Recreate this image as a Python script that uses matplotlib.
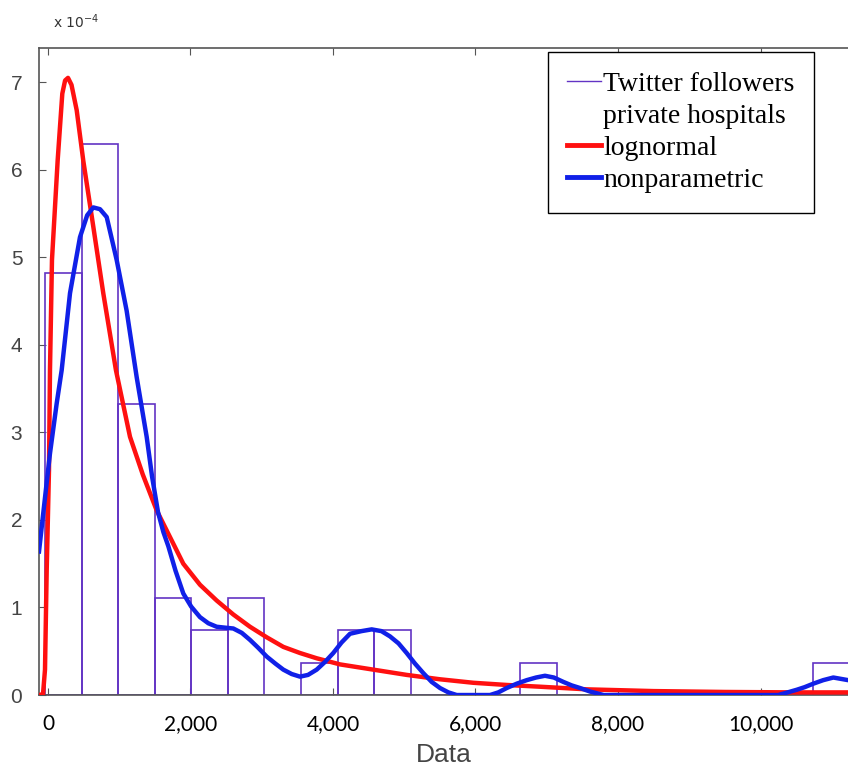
import numpy as np
import matplotlib
matplotlib.use('Agg')
import matplotlib.pyplot as plt
from matplotlib.lines import Line2D

# histograma (densidad en unidades de 1e-4)
bin_edges = [-40, 473, 986, 1499, 2012, 2525, 3038, 3551, 4064, 4577, 5090,
             5603, 6116, 6629, 7142, 7655, 8168, 8681, 9194, 9707, 10220,
             10733, 11246]
densidad = [4.82, 6.30, 3.33, 1.11, 0.74, 1.11, 0.0, 0.37, 0.74, 0.74, 0.0,
            0.0, 0.0, 0.37, 0.0, 0.0, 0.0, 0.0, 0.0, 0.0, 0.0, 0.37]

# curva lognormal
logn_x = [-126, -70, -42, -18, 14, 28, 56, 136, 201, 240, 281, 330, 403, 496,
          636, 776, 954, 1151, 1330, 1525, 1666, 1899, 2133, 2367, 2601, 2835,
          3069, 3303, 3537, 3771, 4098, 4566, 5034, 5500, 5969, 6437, 6905,
          7561, 8500, 9500, 10500, 11230]
logn_y = [0.0, 0.01, 0.29, 1.43, 2.57, 3.71, 4.97, 6.11, 6.87, 7.02, 7.05,
          6.97, 6.68, 6.10, 5.35, 4.59, 3.71, 2.95, 2.52, 2.11, 1.88, 1.50,
          1.26, 1.08, 0.92, 0.78, 0.66, 0.55, 0.48, 0.42, 0.35, 0.29, 0.23,
          0.18, 0.14, 0.115, 0.095, 0.065, 0.045, 0.035, 0.03, 0.03]

# curva no parametrica
kde_x = [-126, -66, 28, 122, 192, 309, 449, 550, 636, 730, 824, 964, 1104,
         1245, 1385, 1460, 1544, 1620, 1689, 1790, 1899, 2010, 2133, 2250,
         2367, 2480, 2601, 2720, 2835, 2950, 3069, 3190, 3303, 3420, 3537,
         3650, 3771, 3890, 4004, 4120, 4239, 4400, 4543, 4680, 4800, 4920,
         5034, 5150, 5268, 5385, 5502, 5620, 5736, 6204, 6320, 6438, 6580,
         6719, 6850, 6975, 7100, 7233, 7350, 7467, 7607, 7800, 10250, 10380,
         10508, 10620, 10742, 10880, 11022, 11230]
kde_y = [1.64, 2.08, 2.76, 3.33, 3.71, 4.59, 5.23, 5.48, 5.57, 5.55, 5.46,
         4.97, 4.39, 3.63, 2.95, 2.50, 2.09, 1.86, 1.70, 1.42, 1.16, 1.01,
         0.89, 0.82, 0.78, 0.77, 0.76, 0.71, 0.63, 0.54, 0.44, 0.36, 0.29,
         0.24, 0.21, 0.23, 0.29, 0.38, 0.48, 0.60, 0.70, 0.73, 0.75, 0.73,
         0.67, 0.59, 0.48, 0.36, 0.25, 0.15, 0.08, 0.03, 0.0, 0.0, 0.03,
         0.08, 0.13, 0.17, 0.20, 0.22, 0.20, 0.15, 0.11, 0.08, 0.04, 0.0,
         0.0, 0.03, 0.06, 0.09, 0.13, 0.17, 0.20, 0.17]

x_ticks = [0, 2000, 4000, 6000, 8000, 10000]
x_labels = ['0', '2,000', '4,000', '6,000', '8,000', '10,000']
y_ticks = [0, 1, 2, 3, 4, 5, 6, 7]

morado = '#6233c4'
rojo = '#ff1010'
azul = '#1020e8'

fig = plt.figure(figsize=(8.48, 7.72), dpi=100)
ax = fig.add_axes([0.046, 0.0997, 0.954, 0.838])

anchos = np.diff(bin_edges)
ax.bar(bin_edges[:-1], densidad, width=anchos, align='edge', fill=False,
       edgecolor=morado, linewidth=1.2, zorder=2)
ax.plot(logn_x, logn_y, color=rojo, lw=3.2, zorder=3, solid_joinstyle='round')
ax.plot(kde_x, kde_y, color=azul, lw=3.2, zorder=4, solid_joinstyle='round')

ax.set_xlim(-126, 11228)
ax.set_ylim(0, 7.39)
ax.set_xticks(x_ticks)
ax.set_xticklabels(x_labels, fontfamily='Lato', fontsize=15, color='black')
ax.set_yticks(y_ticks)
ax.set_yticklabels([str(t) for t in y_ticks], fontfamily='Liberation Sans',
                   fontsize=15, color='#444444')
ax.tick_params(axis='x', direction='in', top=True, length=5, pad=14,
               color='#555555')
ax.tick_params(axis='y', direction='in', length=5, pad=12, color='#555555')
for lado in ['left', 'top', 'bottom']:
    ax.spines[lado].set_color('#555555')
    ax.spines[lado].set_linewidth(1.2)
ax.spines['right'].set_visible(False)

ax.set_xlabel('Data', fontfamily='Liberation Sans', fontsize=19,
              color='#444444', labelpad=6)
fig.text(0.063, 0.972, r'x 10$^{-4}$', fontsize=10, color='#333333',
         va='center')

# leyenda estilo MATLAB: la segunda linea del histograma sin simbolo
manejadores = [Line2D([], [], color=morado, lw=1.0),
               Line2D([], [], color='none', lw=0),
               Line2D([], [], color=rojo, lw=3.5),
               Line2D([], [], color=azul, lw=3.5)]
etiquetas = ['Twitter followers', 'private hospitals', 'lognormal',
             'nonparametric']
leg = ax.legend(manejadores, etiquetas, loc='upper left',
                bbox_to_anchor=(0.629, 0.994), frameon=True, fancybox=False,
                edgecolor='black', framealpha=1,
                prop={'family': 'Liberation Serif', 'size': 20},
                handlelength=1.2, handletextpad=0.1, borderpad=0.7,
                labelspacing=0.24, borderaxespad=0)
leg.get_frame().set_linewidth(1.0)

fig.savefig('out.png', dpi=100)
